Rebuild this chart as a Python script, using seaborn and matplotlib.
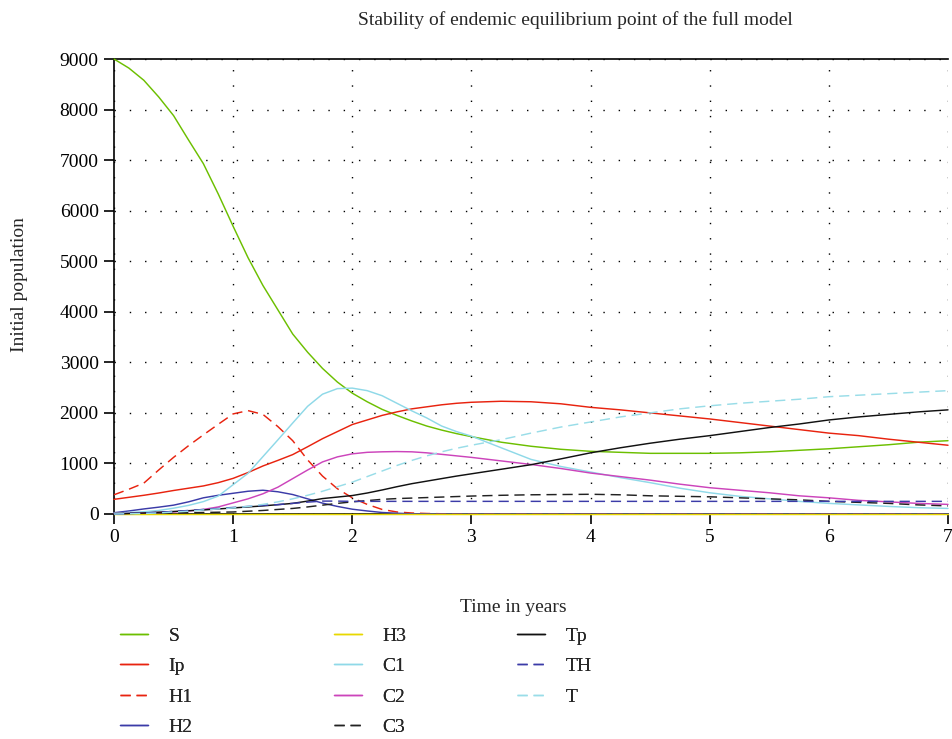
import matplotlib
matplotlib.use("Agg")
import matplotlib.pyplot as plt
import pandas as pd
import seaborn as sns

# time grid (years): finer where curves move fast
t = [0, 0.125, 0.25, 0.375, 0.5, 0.625, 0.75, 0.875, 1, 1.125, 1.25, 1.375, 1.5,
     1.625, 1.75, 1.875, 2, 2.125, 2.25, 2.375, 2.5, 2.625, 2.75, 2.875, 3,
     3.25, 3.5, 3.75, 4, 4.25, 4.5, 4.75, 5, 5.25, 5.5, 5.75, 6, 6.25, 6.5, 6.75, 7]

S = [9000, 8820, 8580, 8250, 7880, 7400, 6930, 6330, 5690, 5070, 4520, 4040, 3560,
     3200, 2880, 2610, 2390, 2220, 2070, 1950, 1840, 1740, 1660, 1590, 1530,
     1420, 1340, 1280, 1240, 1220, 1200, 1200, 1200, 1210, 1230, 1260, 1290, 1330, 1370, 1420, 1450]
Ip = [290, 330, 370, 415, 465, 510, 555, 620, 705, 820, 950, 1060, 1175,
      1330, 1490, 1630, 1770, 1860, 1950, 2020, 2080, 2120, 2160, 2190, 2210,
      2230, 2220, 2180, 2110, 2060, 2000, 1940, 1880, 1810, 1740, 1670, 1600, 1550, 1480, 1420, 1360]
H1 = [380, 490, 610, 870, 1120, 1350, 1565, 1775, 1980, 2045, 1970, 1730, 1450,
      1070, 750, 500, 320, 190, 90, 40, 20, 10, 5, 0, 0,
      0, 0, 0, 0, 0, 0, 0, 0, 0, 0, 0, 0, 0, 0, 0, 0]
H2 = [25, 60, 100, 135, 175, 240, 320, 370, 410, 450, 470, 440, 385,
      300, 215, 150, 95, 60, 30, 15, 5, 2, 0, 0, 0,
      0, 0, 0, 0, 0, 0, 0, 0, 0, 0, 0, 0, 0, 0, 0, 0]
H3 = [0] * len(t)
C1 = [20, 30, 45, 70, 115, 170, 245, 355, 580, 805, 1135, 1465, 1800,
      2130, 2370, 2480, 2490, 2440, 2340, 2190, 2040, 1900, 1740, 1630, 1540,
      1310, 1080, 940, 830, 720, 620, 510, 420, 350, 300, 250, 210, 180, 150, 125, 110]
C2 = [10, 12, 20, 30, 40, 60, 90, 140, 220, 300, 400, 530, 700,
      870, 1030, 1130, 1190, 1220, 1230, 1235, 1230, 1210, 1180, 1150, 1120,
      1050, 980, 900, 810, 740, 670, 590, 520, 470, 420, 360, 320, 270, 240, 210, 190]
C3 = [10, 12, 15, 18, 20, 25, 30, 35, 40, 55, 70, 90, 110,
      140, 175, 210, 240, 265, 290, 305, 315, 325, 335, 345, 355,
      370, 380, 385, 390, 380, 360, 350, 340, 320, 300, 280, 250, 230, 210, 180, 160]
Tp = [0, 10, 20, 35, 50, 65, 80, 100, 120, 140, 160, 185, 210,
      255, 305, 335, 365, 415, 475, 540, 600, 650, 700, 750, 795,
      885, 975, 1090, 1210, 1310, 1400, 1480, 1550, 1630, 1710, 1780, 1860, 1920, 1970, 2020, 2060]
TH = [0, 10, 20, 35, 50, 70, 90, 110, 130, 150, 170, 185, 210,
      235, 255, 255, 250, 250, 250, 250, 250, 250, 250, 250, 250,
      250, 250, 250, 250, 250, 250, 250, 250, 250, 250, 250, 250, 250, 250, 250, 250]
T = [0, 5, 10, 20, 40, 55, 80, 100, 120, 150, 190, 240, 300,
     370, 450, 540, 630, 740, 850, 960, 1060, 1150, 1230, 1300, 1360,
     1470, 1600, 1720, 1820, 1920, 2000, 2080, 2140, 2190, 2230, 2270, 2320, 2350, 2380, 2410, 2440]

series = {"S": S, "Ip": Ip, "H1": H1, "H2": H2, "H3": H3, "C1": C1, "C2": C2,
          "C3": C3, "Tp": Tp, "TH": TH, "T": T}
colors = {"S": "#6cbf00", "Ip": "#e8230f", "H1": "#e8230f", "H2": "#3b3ba8",
          "H3": "#e8d800", "C1": "#8fd9e8", "C2": "#cc44bb", "C3": "#222222",
          "Tp": "#111111", "TH": "#3b3ba8", "T": "#99dde8"}
dashed = {"H1", "C3", "TH", "T"}

sns.set_theme(style="ticks")
plt.rcParams["font.family"] = ["Liberation Serif", "DejaVu Serif"]

fig = plt.figure(figsize=(9.52, 7.39), dpi=100)
ax = fig.add_axes([114 / 952, 1 - 514 / 739, (948 - 114) / 952, (514 - 59) / 739])

for name, vals in series.items():
    df = pd.DataFrame({"t": t, "v": vals})
    ls = (0, (7, 4)) if name in dashed else "-"
    sns.lineplot(data=df, x="t", y="v", ax=ax, color=colors[name], linewidth=1.05,
                 linestyle=ls, label=name, legend=False, zorder=3, clip_on=False)

ax.set_xlim(0, 7)
ax.set_ylim(0, 9000)
ax.set_xticks(range(0, 8))
ax.set_yticks(range(0, 9001, 1000))
ax.grid(True, color="black", linestyle=(0, (1, 10)), linewidth=1.0)
ax.spines["right"].set_visible(False)
for s in ["left", "bottom", "top"]:
    ax.spines[s].set_color("black")
    ax.spines[s].set_linewidth(1.2)
ax.tick_params(axis="both", direction="out", length=7, width=1.2, labelsize=14,
               colors="black", pad=4)
ax.set_xlabel("")
ax.set_ylabel("")

fig.text(575 / 952, 1 - 20 / 739, "Stability of endemic equilibrium point of the full model",
         ha="center", va="center", fontsize=14)
fig.text(513 / 952, 1 - 607 / 739, "Time in years", ha="center", va="center", fontsize=14)
fig.text(20 / 952, 1 - 285 / 739, "Initial population", ha="center", va="center",
         fontsize=14, rotation=90)

# legend: three columns placed separately
handles, labels = ax.get_legend_handles_labels()
groups = [(0, 4, 120), (4, 8, 334), (8, 11, 517)]
for start, stop, xpix in groups:
    leg = fig.legend(handles[start:stop], labels[start:stop], frameon=False, fontsize=14,
                     loc="upper left", bbox_to_anchor=(xpix / 952, 1 - 627 / 739),
                     borderpad=0, borderaxespad=0, handlelength=1.45,
                     handletextpad=1.05, labelspacing=0.66)
    fig.add_artist(leg)

fig.savefig("out.png", dpi=100)
